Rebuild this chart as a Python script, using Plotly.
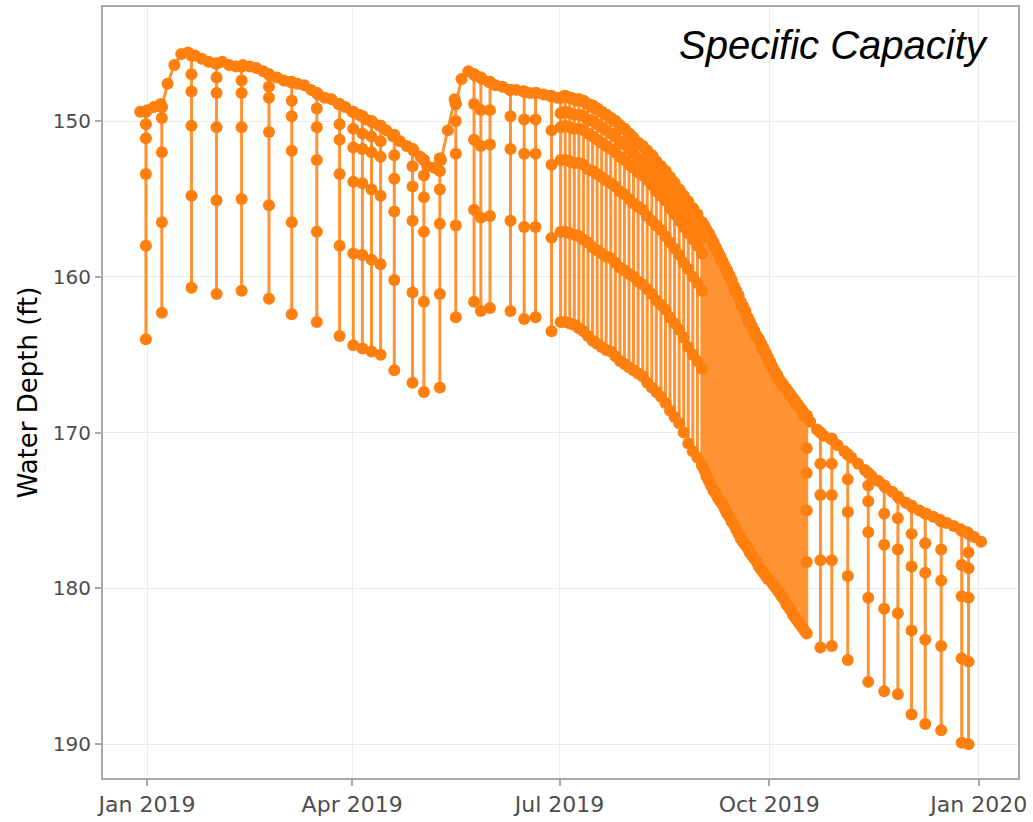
import plotly.graph_objects as go
import pandas as pd

# ---- static (non-pumping) water depth, read every 3 days from 2018-12-29, ft ----
static_start = "2018-12-29"
static_depth = [
    149.4, 149.3, 149.1, 148.9, 147.6, 146.4, 145.7, 145.6, 145.8, 146.0,
    146.2, 146.3, 146.2, 146.4, 146.5, 146.4, 146.5, 146.6, 146.8, 147.1,
    147.2, 147.4, 147.5, 147.6, 147.7, 148.0, 148.3, 148.5, 148.6, 148.9,
    149.1, 149.4, 149.6, 149.9, 150.1, 150.3, 150.6, 151.0, 151.3, 151.6,
    151.9, 152.3, 152.9, 153.0, 152.5, 150.6, 148.6, 147.3, 146.8, 147.1,
    147.3, 147.5, 147.7, 147.8, 148.0, 148.0, 148.1, 148.2, 148.2, 148.3,
    148.4, 148.5, 148.4, 148.5, 148.7, 148.8, 149.1, 149.3, 149.6, 149.9,
    150.2, 150.6, 151.0, 151.5, 151.9, 152.3, 152.9, 153.4, 153.9, 154.5,
    155.1, 155.8, 156.5, 157.2, 158.1, 159.0, 159.9, 160.9, 161.9, 162.9,
    163.8, 164.6, 165.5, 166.3, 167.0, 167.6, 168.2, 168.9, 169.3, 169.8,
    170.2, 170.4, 170.8, 171.2, 171.6, 172.0, 172.4, 172.8, 173.1, 173.5,
    173.8, 174.2, 174.5, 174.8, 175.0, 175.2, 175.4, 175.6, 175.8, 176.0,
    176.2, 176.4, 176.7, 177.0,
]

# ---- specific-capacity tests: static level first, then pumping levels, ft ----
test_dates = [
    "2018-12-31", "2019-01-07", "2019-01-20", "2019-01-31", "2019-02-11", "2019-02-23",
    "2019-03-05", "2019-03-16", "2019-03-26", "2019-04-01", "2019-04-05", "2019-04-09",
    "2019-04-13", "2019-04-19", "2019-04-27", "2019-05-02", "2019-05-09", "2019-05-16",
    "2019-05-24", "2019-05-27", "2019-05-31", "2019-06-09", "2019-06-15", "2019-06-20",
    "2019-06-27",
    "2019-07-01", "2019-07-03", "2019-07-05", "2019-07-07", "2019-07-09", "2019-07-11",
    "2019-07-13", "2019-07-15", "2019-07-17", "2019-07-19", "2019-07-21", "2019-07-23",
    "2019-07-25", "2019-07-27", "2019-07-29", "2019-07-31", "2019-08-02", "2019-08-04",
    "2019-08-06", "2019-08-08", "2019-08-10", "2019-08-12", "2019-08-14", "2019-08-16",
    "2019-08-18", "2019-08-20", "2019-08-22", "2019-08-24", "2019-08-26", "2019-08-28",
    "2019-08-30", "2019-09-01",
    "2019-10-23", "2019-10-28", "2019-11-04", "2019-11-13", "2019-11-20", "2019-11-26",
    "2019-12-02", "2019-12-08", "2019-12-15", "2019-12-24", "2019-12-27",
]
test_levels = [
    [149.4, 150.2, 151.1, 153.4, 158.0, 164.0],
    [149.1, 149.8, 152.0, 156.5, 162.3],
    [145.8, 147.0, 148.1, 150.3, 154.8, 160.7],
    [146.3, 147.2, 148.2, 150.4, 155.1, 161.1],
    [146.5, 147.4, 148.2, 150.4, 155.0, 160.9],
    [147.0, 147.8, 148.5, 150.7, 155.4, 161.4],
    [147.5, 148.7, 149.7, 151.9, 156.5, 162.4],
    [148.2, 149.2, 150.4, 152.5, 157.1, 162.9],
    [148.9, 150.2, 151.2, 153.4, 158.0, 163.8],
    [149.4, 150.5, 151.7, 153.9, 158.5, 164.4],
    [149.7, 150.8, 151.8, 154.0, 158.6, 164.6],
    [150.0, 151.0, 152.0, 154.4, 158.9, 164.8],
    [150.3, 151.3, 152.3, 154.8, 159.2, 165.0],
    [150.9, 152.2, 153.7, 155.8, 160.2, 166.0],
    [151.8, 152.9, 154.2, 156.4, 161.0, 166.8],
    [152.5, 153.5, 154.9, 157.1, 161.6, 167.4],
    [152.4, 153.2, 154.4, 156.6, 161.1, 167.1],
    [148.9, 150.0, 152.1, 156.7, 162.6],
    [147.0, 148.9, 151.2, 155.7, 161.6],
    [147.2, 149.3, 151.6, 156.2, 162.2],
    [147.5, 149.3, 151.5, 156.1, 162.0],
    [148.0, 149.7, 151.8, 156.4, 162.2],
    [148.1, 149.9, 152.1, 156.8, 162.7],
    [148.2, 149.9, 152.1, 156.8, 162.6],
    [148.4, 150.6, 152.8, 157.5, 163.5],
    [148.5, 149.5, 150.4, 152.5, 157.1, 162.9],
    [148.4, 149.4, 150.3, 152.5, 157.1, 162.9],
    [148.5, 149.5, 150.4, 152.6, 157.2, 163.0],
    [148.6, 149.6, 150.5, 152.7, 157.3, 163.1],
    [148.6, 149.6, 150.5, 152.7, 157.4, 163.3],
    [148.7, 149.7, 150.6, 152.8, 157.6, 163.5],
    [148.9, 149.9, 150.8, 153.1, 157.8, 163.8],
    [149.0, 150.0, 151.0, 153.2, 158.1, 164.1],
    [149.2, 150.2, 151.2, 153.4, 158.3, 164.3],
    [149.4, 150.4, 151.4, 153.6, 158.5, 164.5],
    [149.6, 150.6, 151.6, 153.8, 158.7, 164.7],
    [149.8, 150.8, 151.8, 154.0, 158.8, 164.8],
    [150.0, 151.0, 152.0, 154.2, 159.1, 165.1],
    [150.3, 151.3, 152.3, 154.5, 159.4, 165.4],
    [150.5, 151.5, 152.5, 154.7, 159.6, 165.6],
    [150.8, 151.8, 152.8, 155.0, 159.8, 165.8],
    [151.1, 152.1, 153.0, 155.3, 160.0, 166.0],
    [151.4, 152.4, 153.3, 155.5, 160.3, 166.2],
    [151.6, 152.6, 153.5, 155.7, 160.5, 166.4],
    [151.9, 152.9, 153.8, 156.1, 160.8, 166.8],
    [152.2, 153.2, 154.1, 156.4, 161.1, 167.1],
    [152.6, 153.6, 154.5, 156.7, 161.5, 167.4],
    [152.9, 153.9, 154.8, 157.0, 161.8, 167.7],
    [153.2, 154.2, 155.1, 157.4, 162.1, 168.1],
    [153.6, 154.6, 155.6, 157.8, 162.6, 168.6],
    [154.0, 155.0, 156.0, 158.2, 163.0, 169.0],
    [154.4, 155.4, 156.4, 158.6, 163.4, 169.4],
    [154.8, 155.8, 156.8, 159.1, 163.9, 170.0],
    [155.2, 156.2, 157.2, 159.5, 164.5, 170.7],
    [155.6, 156.6, 157.6, 160.0, 165.0, 171.2],
    [156.0, 157.0, 158.0, 160.4, 165.4, 171.6],
    [156.5, 157.5, 158.5, 160.9, 165.9, 172.1],
    [170.0, 172.0, 174.0, 178.2, 183.8],
    [170.4, 172.0, 174.0, 178.2, 183.7],
    [171.4, 173.0, 175.1, 179.2, 184.6],
    [172.6, 173.4, 174.4, 176.4, 180.6, 186.0],
    [173.4, 175.2, 177.2, 181.3, 186.6],
    [174.1, 175.5, 177.5, 181.6, 186.8],
    [174.7, 176.5, 178.6, 182.7, 188.1],
    [175.2, 177.1, 179.0, 183.3, 188.7],
    [175.7, 177.5, 179.5, 183.7, 189.1],
    [176.3, 178.5, 180.5, 184.5, 189.9],
    [176.5, 177.7, 178.7, 180.6, 184.7, 190.0],
]

# ---- daily tests, Sep 2 - Oct 17 2019: static level and lowest pumping level, ft ----
daily_dates = [
    "2019-09-02", "2019-09-03", "2019-09-04", "2019-09-05", "2019-09-06",
    "2019-09-07", "2019-09-08", "2019-09-09", "2019-09-10",
    "2019-09-11", "2019-09-12", "2019-09-13", "2019-09-14", "2019-09-15",
    "2019-09-16", "2019-09-17", "2019-09-18", "2019-09-19", "2019-09-20",
    "2019-09-21", "2019-09-22", "2019-09-23", "2019-09-24", "2019-09-25",
    "2019-09-26", "2019-09-27", "2019-09-28", "2019-09-29", "2019-09-30",
    "2019-10-01", "2019-10-02", "2019-10-03", "2019-10-04", "2019-10-05",
    "2019-10-06", "2019-10-07", "2019-10-08", "2019-10-09", "2019-10-10",
    "2019-10-11", "2019-10-12", "2019-10-13", "2019-10-14", "2019-10-15",
    "2019-10-16", "2019-10-17",
]
daily_top = [
    156.7, 157.0, 157.2, 157.5, 157.8, 158.1, 158.4, 158.7, 159.0,
    159.3, 159.6, 159.9, 160.2, 160.6, 160.9, 161.2, 161.6, 161.9, 162.2,
    162.6, 162.9, 163.2, 163.5, 163.8, 164.0, 164.3, 164.6, 164.9, 165.2,
    165.5, 165.8, 166.1, 166.3, 166.6, 166.8, 167.0, 167.2, 167.4, 167.6,
    167.8, 168.0, 168.2, 168.4, 168.6, 168.8, 168.9,
]
daily_bottom = [
    172.4, 172.8, 173.1, 173.4, 173.7, 173.9, 174.2, 174.4, 174.6,
    174.9, 175.2, 175.4, 175.7, 175.9, 176.2, 176.5, 176.8, 177.0, 177.2,
    177.4, 177.7, 177.9, 178.1, 178.3, 178.6, 178.8, 179.0, 179.2, 179.4,
    179.5, 179.7, 179.9, 180.1, 180.3, 180.5, 180.7, 181.0, 181.2, 181.4,
    181.7, 181.9, 182.1, 182.3, 182.5, 182.7, 182.9,
]
last_daily_levels = [168.9, 171.0, 172.6, 175.0, 178.3, 182.9]

y_ticks = [150, 160, 170, 180, 190]
x_ticks = ["2019-01-01", "2019-04-01", "2019-07-01", "2019-10-01", "2020-01-01"]
x_tick_text = ["Jan 2019", "Apr 2019", "Jul 2019", "Oct 2019", "Jan 2020"]

# ---- assemble the time-ordered series ----
static_dates = pd.date_range(static_start, periods=len(static_depth), freq="3D")
events = [(d, v) for d, v in zip(static_dates, static_depth)]
for d, lv in zip(test_dates, test_levels):
    t = pd.Timestamp(d) + pd.Timedelta(hours=12)
    for v in lv + [lv[0]]:
        events.append((t, v))
for i, (d, top, bot) in enumerate(zip(daily_dates, daily_top, daily_bottom)):
    t = pd.Timestamp(d) + pd.Timedelta(hours=12)
    lv = last_daily_levels if i == len(daily_dates) - 1 else [top, bot]
    for v in lv + [top]:
        events.append((t, v))
events.sort(key=lambda e: e[0])
xs = [e[0] for e in events]
ys = [e[1] for e in events]

orange = "#FF7F0E"
fig = go.Figure()
fig.add_trace(go.Scatter(
    x=xs, y=ys, mode="lines+markers",
    line=dict(color="rgba(255,127,14,0.85)", width=3),
    marker=dict(color=orange, size=12, line=dict(width=0)),
    showlegend=False, hoverinfo="x+y",
))

axis_col = "#a8a8a8"
fig.update_layout(
    width=1033, height=822,
    margin=dict(l=103, r=15, t=5, b=40),
    paper_bgcolor="white", plot_bgcolor="white",
    font=dict(family="DejaVu Sans", color="#4d4d4d"),
    xaxis=dict(
        range=["2018-12-12 16:00", "2020-01-18 05:00"],
        tickvals=x_ticks, ticktext=x_tick_text,
        tickfont=dict(size=22, color="#4d4d4d"),
        showgrid=True, gridcolor="#ebebeb", gridwidth=1,
        showline=True, linecolor=axis_col, linewidth=2, mirror=True,
        ticks="outside", ticklen=6, tickcolor=axis_col, tickwidth=1.5,
        zeroline=False,
    ),
    yaxis=dict(
        range=[192.17, 142.68],
        tickvals=y_ticks,
        tickfont=dict(size=20, color="#4d4d4d"),
        showgrid=True, gridcolor="#ebebeb", gridwidth=1,
        showline=True, linecolor=axis_col, linewidth=2, mirror=True,
        ticks="outside", ticklen=6, tickcolor=axis_col, tickwidth=1.5,
        zeroline=False,
        title=dict(text="Water Depth (ft)", font=dict(size=26, color="black"), standoff=8),
    ),
    annotations=[dict(
        text="Specific Capacity", xref="paper", yref="paper",
        x=0.9705, y=0.951, xanchor="right", yanchor="middle", showarrow=False,
        font=dict(family="Liberation Sans, Arial", size=40, color="black", style="italic"),
    )],
)

fig.write_html(
    "out.html",
    config={"displayModeBar": False},
    post_script="document.body.style.margin='0';document.body.style.padding='0';",
)
